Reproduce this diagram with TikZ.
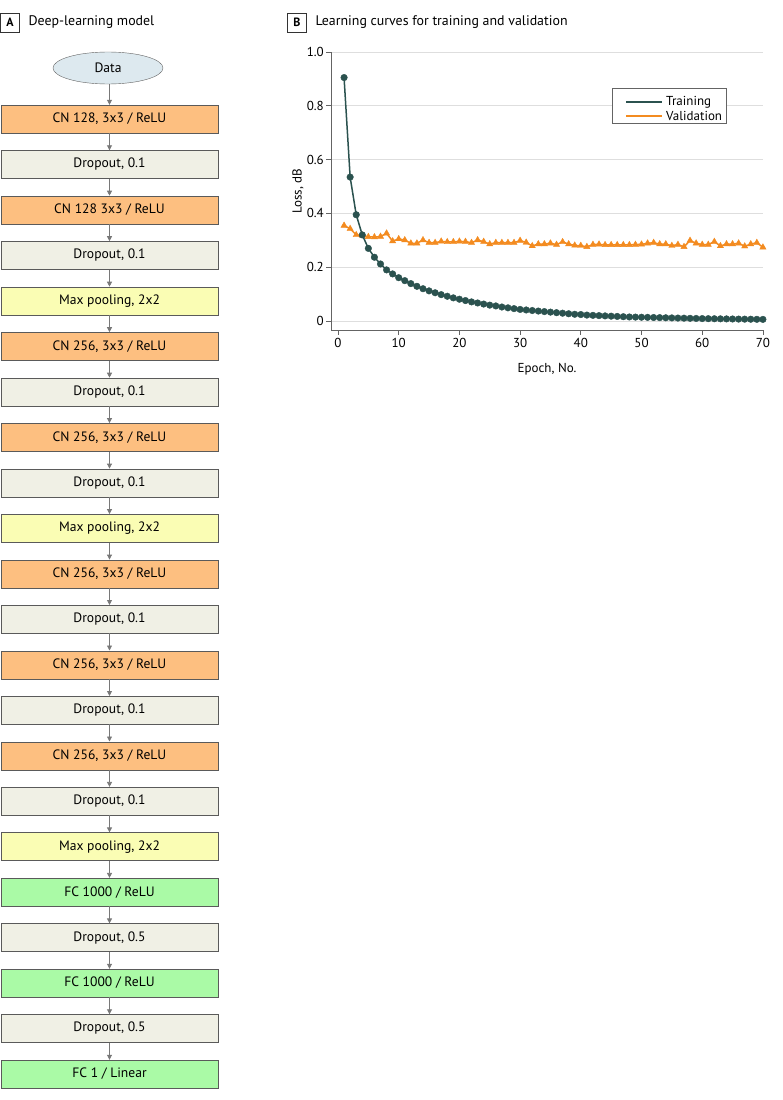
\documentclass[tikz,border=0pt]{standalone}
\usepackage{fontspec}
\setmainfont{PT Sans}
\definecolor{cnorange}{RGB}{253,191,128}
\definecolor{dropgray}{RGB}{240,240,229}
\definecolor{poolyellow}{RGB}{250,253,180}
\definecolor{fcgreen}{RGB}{170,250,166}
\definecolor{datablue}{RGB}{221,233,239}
\definecolor{edgegray}{RGB}{90,90,90}
\definecolor{arrowgray}{RGB}{120,120,120}
\definecolor{gridgray}{RGB}{222,222,222}
\definecolor{axisgray}{RGB}{100,100,100}
\definecolor{trainteal}{RGB}{43,82,79}
\definecolor{valorange}{RGB}{243,139,32}
\usetikzlibrary{arrows.meta, shapes.geometric, plotmarks}

\begin{document}
\begin{tikzpicture}[x=1pt, y=-1pt,
    layer/.style={draw=edgegray, minimum width=217pt, minimum height=28pt,
      inner sep=0pt, font=\fontsize{13.6}{15}\selectfont},
    cnbox/.style={layer, fill=cnorange},
    dropbox/.style={layer, fill=dropgray},
    poolbox/.style={layer, fill=poolyellow},
    fcbox/.style={layer, fill=fcgreen},
    flow/.style={-{Triangle[length=5pt, width=5pt]}, arrowgray, line width=0.8pt},
    panel/.style={draw=black!80, minimum size=19pt, inner sep=0pt,
      font=\bfseries\fontsize{12}{14}\selectfont},
    paneltitle/.style={anchor=west, font=\fontsize{13.9}{16}\selectfont},
    ticklabel/.style={font=\fontsize{13}{15}\selectfont, inner sep=0pt},
    gridline/.style={gridgray, line width=0.8pt},
    axisline/.style={axisgray, line width=0.8pt},
    trainline/.style={trainteal, line width=1.5pt},
    valline/.style={valorange, line width=1.5pt},
  ]
  \useasboundingbox (0,0) rectangle (783,1100);

  % panel A: the network
  \node[panel] (tagA) at (10,22.5) {A};
  \node[paneltitle] (titleA) at (25,22) {Deep-learning model};

  \node[ellipse, draw=axisgray, fill=datablue, minimum width=110pt,
    minimum height=32pt, font=\fontsize{13.6}{15}\selectfont] (data) at (108,68) {Data};
  \node[cnbox] (l1) at (109.5,119.0) {CN 128, 3x3 / ReLU};
  \node[dropbox] (l2) at (109.5,164.5) {Dropout, 0.1};
  \node[cnbox] (l3) at (109.5,209.9) {CN 128 3x3 / ReLU};
  \node[dropbox] (l4) at (109.5,255.4) {Dropout, 0.1};
  \node[poolbox] (l5) at (109.5,300.9) {Max pooling, 2x2};
  \node[cnbox] (l6) at (109.5,346.4) {CN 256, 3x3 / ReLU};
  \node[dropbox] (l7) at (109.5,391.9) {Dropout, 0.1};
  \node[cnbox] (l8) at (109.5,437.3) {CN 256, 3x3 / ReLU};
  \node[dropbox] (l9) at (109.5,482.8) {Dropout, 0.1};
  \node[poolbox] (l10) at (109.5,528.3) {Max pooling, 2x2};
  \node[cnbox] (l11) at (109.5,573.8) {CN 256, 3x3 / ReLU};
  \node[dropbox] (l12) at (109.5,619.2) {Dropout, 0.1};
  \node[cnbox] (l13) at (109.5,664.7) {CN 256, 3x3 / ReLU};
  \node[dropbox] (l14) at (109.5,710.2) {Dropout, 0.1};
  \node[cnbox] (l15) at (109.5,755.7) {CN 256, 3x3 / ReLU};
  \node[dropbox] (l16) at (109.5,801.1) {Dropout, 0.1};
  \node[poolbox] (l17) at (109.5,846.6) {Max pooling, 2x2};
  \node[fcbox] (l18) at (109.5,892.1) {FC 1000 / ReLU};
  \node[dropbox] (l19) at (109.5,937.6) {Dropout, 0.5};
  \node[fcbox] (l20) at (109.5,983.0) {FC 1000 / ReLU};
  \node[dropbox] (l21) at (109.5,1028.5) {Dropout, 0.5};
  \node[fcbox] (l22) at (109.5,1074.0) {FC 1 / Linear};

  \draw[flow] (data.south -| l1.north) -- (l1.north);
  \foreach \a/\b in {1/2,2/3,3/4,4/5,5/6,6/7,7/8,8/9,9/10,10/11,11/12,
                     12/13,13/14,14/15,15/16,16/17,17/18,18/19,19/20,20/21,21/22}
    \draw[flow] (l\a.south) -- (l\b.north);

  % panel B: learning curves
  \node[panel] (tagB) at (297,22.5) {B};
  \node[paneltitle] (titleB) at (312,22) {Learning curves for training and validation};

  \begin{scope}[shift={(338,321)}, x=6.07pt, y=269pt]
    \foreach \v/\t in {0/0, 0.2/0.2, 0.4/0.4, 0.6/0.6, 0.8/0.8, 1/1.0} {
      \draw[gridline] (-1.15,\v) -- (70,\v);
      \draw[axisline] (-1.15,\v) -- ++(-5pt,0);
      \node[ticklabel, anchor=east] (ytick\t) at ([xshift=-7pt]-1.15,\v) {\t};
    }
    \draw[axisline] (-1.15,1) -- (-1.15,-0.0335) -- (70,-0.0335);
    \foreach \e in {0,10,...,70} {
      \draw[axisline] (\e,-0.0335) -- ++(0,-5pt);
      \node[ticklabel, anchor=north] (xtick\e) at ([yshift=-8pt]\e,-0.0335) {\e};
    }

    \draw[valline] plot[mark=triangle*, mark size=3.6pt,
      mark options={fill=valorange, draw=valorange, line width=0.4pt}] coordinates {
      (1,0.355) (2,0.343) (3,0.320) (4,0.318) (5,0.313) (6,0.312) (7,0.314)
      (8,0.326) (9,0.297) (10,0.305) (11,0.301) (12,0.289) (13,0.289) (14,0.301)
      (15,0.291) (16,0.291) (17,0.296) (18,0.294) (19,0.294) (20,0.296) (21,0.295)
      (22,0.291) (23,0.301) (24,0.295) (25,0.286) (26,0.291) (27,0.291) (28,0.291)
      (29,0.291) (30,0.299) (31,0.292) (32,0.279) (33,0.286) (34,0.286) (35,0.289)
      (36,0.284) (37,0.294) (38,0.286) (39,0.281) (40,0.280) (41,0.276) (42,0.284)
      (43,0.285) (44,0.283) (45,0.283) (46,0.283) (47,0.283) (48,0.283) (49,0.284)
      (50,0.285) (51,0.289) (52,0.291) (53,0.286) (54,0.286) (55,0.280) (56,0.284)
      (57,0.276) (58,0.299) (59,0.289) (60,0.284) (61,0.284) (62,0.295) (63,0.279)
      (64,0.286) (65,0.286) (66,0.289) (67,0.278) (68,0.286) (69,0.291) (70,0.274)};

    \draw[trainline] plot[mark=*, mark size=3.3pt,
      mark options={fill=trainteal, draw=trainteal, line width=0.4pt}] coordinates {
      (1,0.905) (2,0.535) (3,0.395) (4,0.320) (5,0.270) (6,0.237) (7,0.212)
      (8,0.190) (9,0.175) (10,0.161) (11,0.150) (12,0.139) (13,0.129) (14,0.120)
      (15,0.112) (16,0.105) (17,0.098) (18,0.092) (19,0.086) (20,0.081) (21,0.076)
      (22,0.071) (23,0.067) (24,0.063) (25,0.059) (26,0.056) (27,0.052) (28,0.049)
      (29,0.046) (30,0.043) (31,0.041) (32,0.039) (33,0.037) (34,0.035) (35,0.033)
      (36,0.031) (37,0.029) (38,0.027) (39,0.025) (40,0.024) (41,0.022) (42,0.021)
      (43,0.020) (44,0.019) (45,0.018) (46,0.017) (47,0.016) (48,0.015) (49,0.0145)
      (50,0.014) (51,0.0135) (52,0.013) (53,0.0125) (54,0.012) (55,0.0115) (56,0.011)
      (57,0.0105) (58,0.010) (59,0.0095) (60,0.009) (61,0.0087) (62,0.0084) (63,0.0081)
      (64,0.0078) (65,0.0075) (66,0.0072) (67,0.0069) (68,0.0066) (69,0.0063) (70,0.006)};
  \end{scope}

  \node[ticklabel] (xlabel) at (547,369) {Epoch, No.};
  \node[ticklabel, rotate=90] (ylabel) at (298,191) {Loss, dB};

  % legend
  \draw[axisgray, fill=white, line width=0.8pt] (612,88) rectangle (726,123);
  \draw[trainline] (626,102) -- (662,102);
  \draw[valline] (626,116) -- (662,116);
  \node[ticklabel, anchor=west] (legtrain) at (666,102) {Training};
  \node[ticklabel, anchor=west] (legval) at (666,116) {Validation};
\end{tikzpicture}
\end{document}
